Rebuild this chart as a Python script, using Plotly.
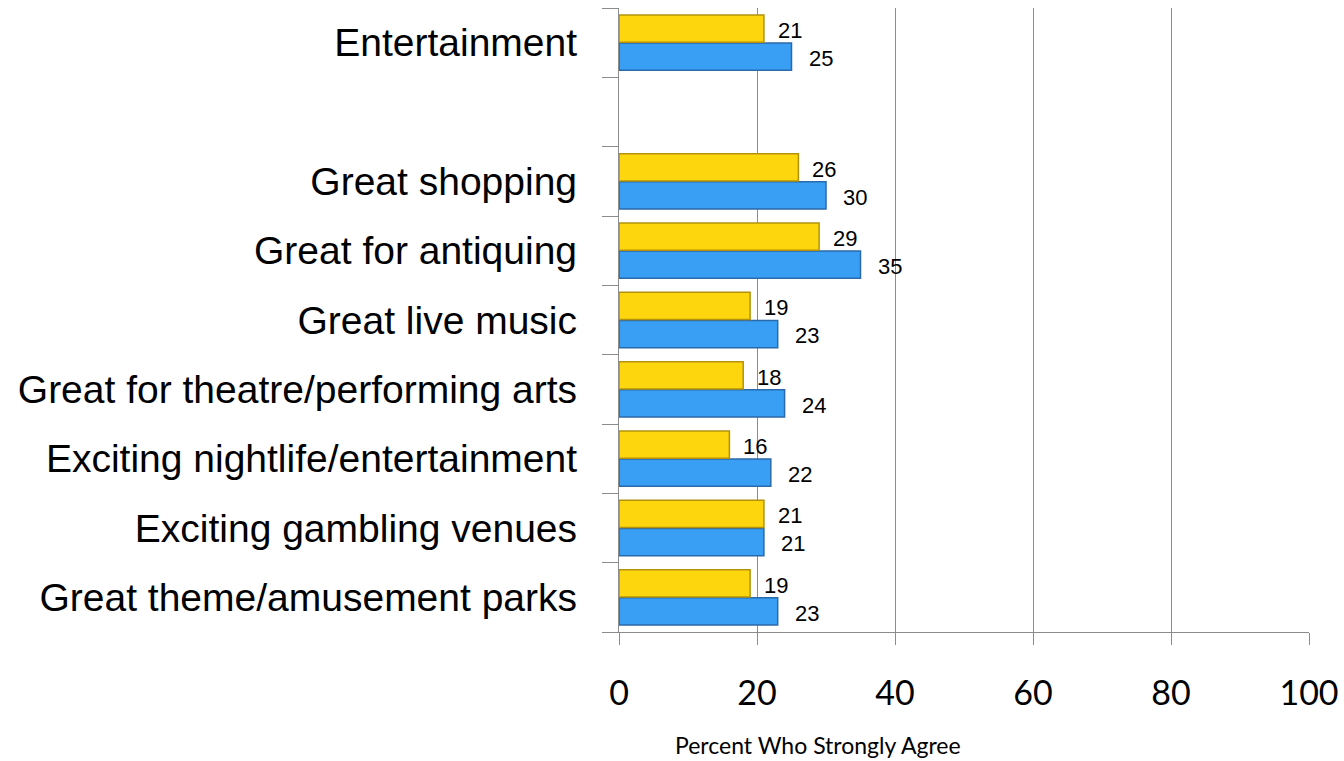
import plotly.graph_objects as go

# categories listed bottom -> top; " " is the empty spacer row
categories = [
    "Great theme/amusement parks",
    "Exciting gambling venues",
    "Exciting nightlife/entertainment",
    "Great for theatre/performing arts",
    "Great live music",
    "Great for antiquing",
    "Great shopping",
    " ",
    "Entertainment",
]
yellow_vals = [19, 21, 16, 18, 19, 29, 26, None, 21]
blue_vals = [23, 21, 22, 24, 23, 35, 30, None, 25]
x_ticks = [0, 20, 40, 60, 80, 100]
x_title = "Percent Who Strongly Agree"

fig = go.Figure()
fig.add_trace(go.Bar(
    y=categories, x=blue_vals, orientation="h", name="blue",
    marker=dict(color="#389ff4", line=dict(color="#2a6aab", width=1.5)),
))
fig.add_trace(go.Bar(
    y=categories, x=yellow_vals, orientation="h", name="yellow",
    marker=dict(color="#fed60e", line=dict(color="#b3920a", width=1.5)),
))

# value labels, right of each bar
for i, (yv, bv) in enumerate(zip(yellow_vals, blue_vals)):
    if yv is not None:
        fig.add_annotation(x=yv, y=i + 0.22, text=str(yv), showarrow=False,
                           xanchor="left", xshift=12, yshift=-3,
                           font=dict(family="Liberation Sans, Arial", size=22, color="#000"))
    if bv is not None:
        fig.add_annotation(x=bv, y=i - 0.2, text=str(bv), showarrow=False,
                           xanchor="left", xshift=15, yshift=-2,
                           font=dict(family="Liberation Sans, Arial", size=22, color="#000"))

fig.add_annotation(x=0.288, xref="paper", xanchor="center",
                   y=-0.181, yref="paper", yanchor="middle",
                   text=x_title, showarrow=False,
                   font=dict(family="Lato, Open Sans", size=23, color="#000"))

fig.update_layout(
    width=1344, height=761,
    margin=dict(l=619, r=35, t=8, b=129, autoexpand=False),
    paper_bgcolor="white", plot_bgcolor="white",
    barmode="group", bargap=0.19, bargroupgap=0.03,
    showlegend=False,
)
fig.update_xaxes(
    range=[0, 100], tickvals=x_ticks, automargin=False,
    showgrid=True, gridcolor="#8c8c8c", gridwidth=1.3,
    showline=True, linecolor="#8c8c8c", linewidth=1.3,
    ticks="outside", ticklen=12, tickcolor="#8c8c8c", tickwidth=1.3,
    tickfont=dict(family="Lato, Open Sans", size=34, color="#000"),
    ticklabelstandoff=19,
    zeroline=False,
)
fig.update_yaxes(
    categoryorder="array", categoryarray=categories, automargin=False,
    showline=True, linecolor="#8c8c8c", linewidth=1.3,
    ticks="outside", tickson="boundaries", ticklen=16, tickcolor="#8c8c8c", tickwidth=1.3,
    tickfont=dict(family="Liberation Sans, Arial", size=39, color="#000"),
    ticklabelstandoff=33,
    showgrid=False,
)

# drop the default 8px page margin so the figure sits at the window corner
fig.write_html("out.html", config={"displayModeBar": False},
               post_script="document.body.style.margin='0';")
